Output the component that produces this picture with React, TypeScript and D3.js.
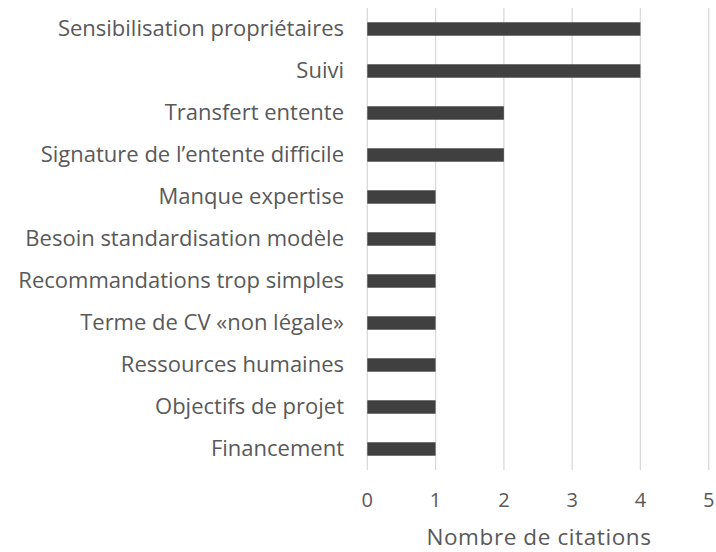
import React from "react";
import * as d3 from "d3";

const categories = [
  "Sensibilisation propriétaires",
  "Suivi",
  "Transfert entente",
  "Signature de l’entente difficile",
  "Manque expertise",
  "Besoin standardisation modèle",
  "Recommandations trop simples",
  "Terme de CV «non légale»",
  "Ressources humaines",
  "Objectifs de projet",
  "Financement",
];
const values = [4, 4, 2, 2, 1, 1, 1, 1, 1, 1, 1];
const ticks = [0, 1, 2, 3, 4, 5];
const axisTitle = "Nombre de citations";

const W = 716;
const H = 552;
const left = 367.3;
const right = 708.7;
const top = 8;
const bottom = 470;
const font = "'Open Sans', 'Noto Sans', sans-serif";
const textColor = "#595959";

export default function App() {
  const x = d3.scaleLinear().domain([0, 5]).range([left, right]);
  const y = d3
    .scaleBand<string>()
    .domain(categories)
    .range([top, bottom])
    .paddingInner(0.68)
    .paddingOuter(0.34);
  return (
    <svg
      width={W}
      height={H}
      style={{ position: "absolute", left: 0, top: 0, background: "#fff" }}
      fontFamily={font}
    >
      {ticks.map((t) => (
        <line
          key={"g" + t}
          x1={x(t)}
          x2={x(t)}
          y1={top}
          y2={bottom}
          stroke="#d9d9d9"
          strokeWidth={1.3}
        />
      ))}
      {categories.map((c, i) => (
        <rect
          key={c}
          x={x(0)}
          y={y(c)}
          width={x(values[i]) - x(0)}
          height={y.bandwidth()}
          fill="#404040"
        />
      ))}
      {categories.map((c) => (
        <text
          key={"l" + c}
          x={344}
          y={(y(c) as number) + y.bandwidth() / 2 + 7}
          textAnchor="end"
          fontSize={22}
          fill={textColor}
        >
          {c}
        </text>
      ))}
      {ticks.map((t) => (
        <text
          key={"t" + t}
          x={x(t)}
          y={507}
          textAnchor="middle"
          fontSize={20}
          fill={textColor}
        >
          {t}
        </text>
      ))}
      <text
        x={539}
        y={545}
        textAnchor="middle"
        fontSize={22.5}
        letterSpacing={0.6}
        fill={textColor}
      >
        {axisTitle}
      </text>
    </svg>
  );
}
